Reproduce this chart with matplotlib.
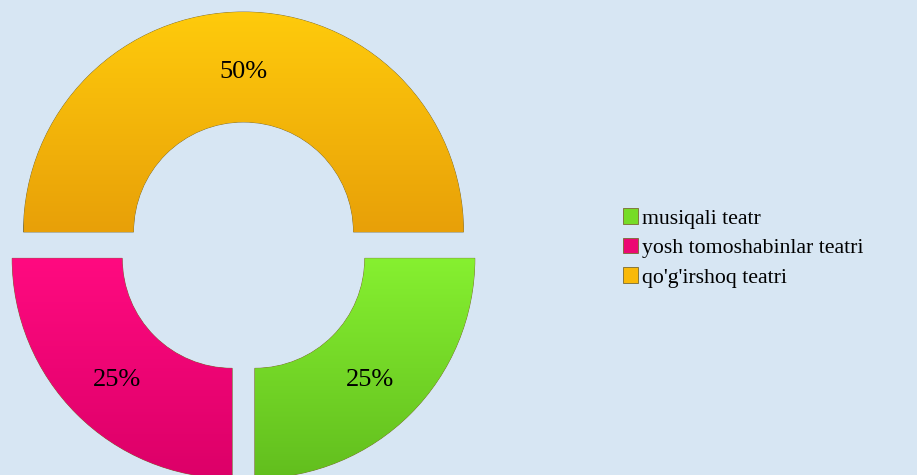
import numpy as np
import matplotlib.pyplot as plt
from matplotlib.colors import LinearSegmentedColormap

# ma'lumotlar
labels = ['musiqali teatr', 'yosh tomoshabinlar teatri', "qo'g'irshoq teatri"]
values = [25, 25, 50]
colors = ['#76dc26', '#ec0873', '#f9b908']
light = ['#86f030', '#ff0a80', '#ffcb0c']
dark = ['#62be1e', '#dc0068', '#e8a008']

bg = '#d7e6f3'

fig = plt.figure(figsize=(9.17, 4.75), dpi=100, facecolor=bg)
ax = fig.add_axes([0, 0, 1, 1])

wedges, texts, autotexts = ax.pie(
    values, colors=colors, startangle=0, counterclock=False,
    radius=220, center=(243.5, 228), explode=[16, 16, 15],
    autopct='%1.0f%%', pctdistance=0.74,
    wedgeprops=dict(width=110, edgecolor='#7a6a30', linewidth=0.6),
    textprops=dict(family='Liberation Serif', fontsize=19, color='black'),
    frame=True)
ax.set_xlim(0, 917)
ax.set_ylim(0, 475)
ax.set_aspect('equal')
ax.axis('off')

# har bir bo'lakka vertikal gradient
grad = np.linspace(0, 1, 256).reshape(-1, 1)
for w, lc, dc in zip(wedges, light, dark):
    cmap = LinearSegmentedColormap.from_list('g', [dc, lc])
    bb = w.get_path().get_extents(w.get_patch_transform())
    im = ax.imshow(grad, cmap=cmap, origin='lower', aspect='auto',
                   extent=[bb.x0, bb.x1, bb.y0, bb.y1], zorder=w.get_zorder() + 0.1)
    im.set_clip_path(w)
# pastki yorliqlar biroz pastroq
for t, dy in zip(autotexts, [7, 7, 3]):
    x, y = t.get_position()
    t.set_position((x, y - dy))
    t.set_zorder(5)

leg = ax.legend(wedges, labels, loc='center left',
                bbox_to_anchor=(603 / 917, 1 - 248 / 475),
                bbox_transform=fig.transFigure, frameon=False,
                prop=dict(family='Liberation Serif', size=15.7),
                handlelength=0.7, handleheight=0.7, handletextpad=0.2,
                labelspacing=0.42)

fig.savefig('out.png', dpi=100, facecolor=bg)
